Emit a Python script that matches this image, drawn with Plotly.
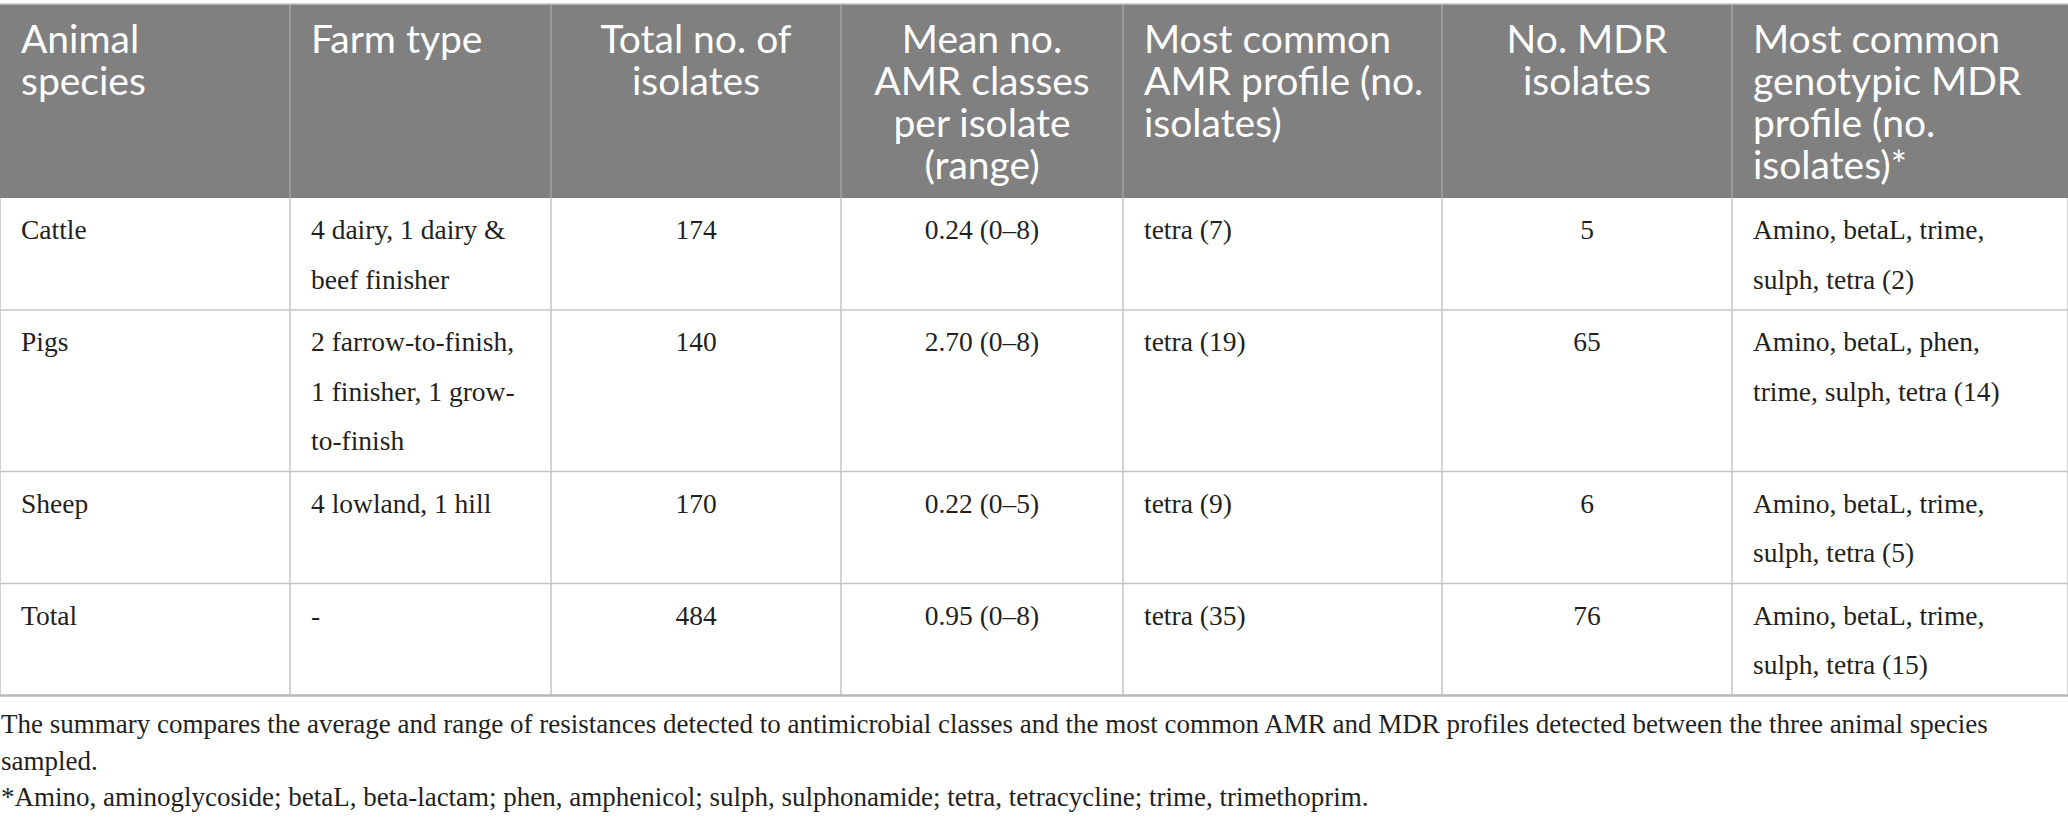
import plotly.graph_objects as go

# table contents, as printed
headers = ["Animal<br>species", "Farm type", "Total no. of<br>isolates",
           "Mean no.<br>AMR classes<br>per isolate<br>(range)",
           "Most common<br>AMR profile (no.<br>isolates)", "No. MDR<br>isolates",
           "Most common<br>genotypic MDR<br>profile (no.<br>isolates)*"]

species = ["Cattle", "Pigs", "Sheep", "Total"]
farm_type = ["4 dairy, 1 dairy &<br>beef finisher",
             "2 farrow-to-finish,<br>1 finisher, 1 grow-<br>to-finish",
             "4 lowland, 1 hill", "-"]
total_isolates = [174, 140, 170, 484]
mean_classes = [0.24, 2.70, 0.22, 0.95]
class_range = ["0–8", "0–8", "0–5", "0–8"]
common_amr = ["tetra (7)", "tetra (19)", "tetra (9)", "tetra (35)"]
mdr_isolates = [5, 65, 6, 76]
mdr_profile = ["Amino, betaL, trime,<br>sulph, tetra (2)",
               "Amino, betaL, phen,<br>trime, sulph, tetra (14)",
               "Amino, betaL, trime,<br>sulph, tetra (5)",
               "Amino, betaL, trime,<br>sulph, tetra (15)"]

footnotes = ["The summary compares the average and range of resistances detected to antimicrobial classes "
             "and the most common AMR and MDR profiles detected between the three animal species",
             "sampled.",
             "*Amino, aminoglycoside; betaL, beta-lactam; phen, amphenicol; sulph, sulphonamide; "
             "tetra, tetracycline; trime, trimethoprim."]

columns = [species, farm_type, [str(v) for v in total_isolates],
           ["%.2f (%s)" % (m, r) for m, r in zip(mean_classes, class_range)],
           common_amr, [str(v) for v in mdr_isolates], mdr_profile]
align = ["left", "left", "center", "center", "left", "center", "left"]

# page geometry (pixels)
W, H = 2068, 823
col_edges = [0, 290, 551, 841, 1123, 1442, 1732, 2068]
pad_x = 21
top = 4
head_h = 194
head_gap, head_first = 42, 49
body_gap, body_first = 49.5, 41
head_fs, body_fs, foot_fs = 39, 27.5, 27
foot_first, foot_gap = 733, 36.5

HEAD_FONT = "Lato"
BODY_FONT = "Liberation Serif"
INK = "#231f20"

n_lines = [max(len(c[i].split("<br>")) for c in columns) for i in range(len(species))]
row_edges = [top + head_h]
for n in n_lines:
    row_edges.append(row_edges[-1] + body_gap * n + 13)

fig = go.Figure()


def add_text(xs, ys, texts, pos, font, size, color):
    fig.add_trace(go.Scatter(x=xs, y=ys, text=texts, mode="text", textposition=pos,
                             textfont=dict(family=font, size=size, color=color),
                             hoverinfo="skip", showlegend=False))


def col_x(j):
    if align[j] == "center":
        return (col_edges[j] + col_edges[j + 1]) / 2, "middle center"
    return col_edges[j] + pad_x, "middle right"


# header
for j, h in enumerate(headers):
    x, pos = col_x(j)
    lines = h.split("<br>")
    ys = [top + head_first + k * head_gap - 0.25 * head_fs for k in range(len(lines))]
    add_text([x] * len(lines), ys, lines, pos, HEAD_FONT, head_fs, "white")

# body cells
for j, col in enumerate(columns):
    x, pos = col_x(j)
    xs, ys, ts = [], [], []
    for i, cell in enumerate(col):
        for k, line in enumerate(cell.split("<br>")):
            xs.append(x)
            ys.append(row_edges[i] + body_first + k * body_gap - 0.25 * body_fs)
            ts.append(line)
    add_text(xs, ys, ts, pos, BODY_FONT, body_fs, INK)

# footnotes
fy = [foot_first + k * foot_gap - 0.25 * foot_fs for k in range(len(footnotes))]
add_text([1] * len(footnotes), fy, footnotes, "middle right", BODY_FONT, foot_fs, INK)

shapes = [dict(type="rect", x0=0, x1=W, y0=top, y1=top + head_h,
               fillcolor="#808080", line_width=0, layer="below")]
# header column rules
for x in col_edges[1:-1]:
    shapes.append(dict(type="line", x0=x, x1=x, y0=top, y1=top + head_h,
                       line=dict(color="#a3a3a3", width=1.5), layer="below"))
# body column rules
for x in col_edges:
    shapes.append(dict(type="line", x0=x, x1=x, y0=top + head_h, y1=row_edges[-1],
                       line=dict(color="#c4c4c4", width=1.5), layer="below"))
# row rules
for y in row_edges[1:-1]:
    shapes.append(dict(type="line", x0=0, x1=W, y0=y, y1=y,
                       line=dict(color="#c4c4c4", width=1.5), layer="below"))
shapes.append(dict(type="line", x0=0, x1=W, y0=row_edges[-1], y1=row_edges[-1],
                   line=dict(color="#b8b8b8", width=2.5), layer="below"))
shapes.append(dict(type="line", x0=0, x1=W, y0=top, y1=top,
                   line=dict(color="#c4c4c4", width=1.5), layer="below"))

fig.update_layout(
    width=W, height=H,
    margin=dict(l=0, r=0, t=0, b=0),
    paper_bgcolor="white", plot_bgcolor="white",
    xaxis=dict(range=[0, W], visible=False, fixedrange=True),
    yaxis=dict(range=[H, 0], visible=False, fixedrange=True),
    shapes=shapes,
)

# the page body has a default 8px margin; drop it so the table sits at the window edge
fig.write_html("out.html", config={"displayModeBar": False},
               post_script="document.body.style.margin = '0';")
